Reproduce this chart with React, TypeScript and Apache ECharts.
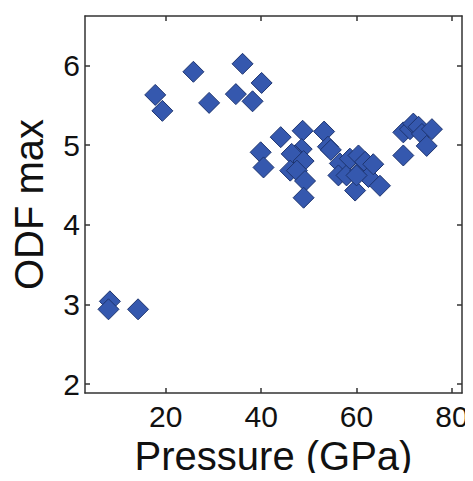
import React, { useEffect, useRef } from "react";
import * as echarts from "echarts";

const pressure: number[] = [
  8.3, 8.0, 14.2,
  17.8, 19.3, 25.8, 29.1, 36.1, 34.7, 38.2, 40.1,
  39.9, 40.5, 44.1, 48.7, 53.2, 48.5, 54.0, 54.6, 47.1, 46.4, 48.9, 46.1, 47.5, 49.2, 48.9,
  56.5, 56.2, 57.9, 58.6, 60.4, 59.7, 60.8, 61.8, 62.5, 63.5, 64.9, 60.0,
  69.8, 69.8, 71.2, 71.9, 73.0, 73.7, 75.8, 74.7,
];
const odfMax: number[] = [
  3.04, 2.94, 2.94,
  5.63, 5.43, 5.92, 5.53, 6.02, 5.64, 5.55, 5.78,
  4.91, 4.72, 5.10, 5.18, 5.17, 4.95, 4.98, 4.94, 4.87, 4.89, 4.80, 4.68, 4.68, 4.55, 4.34,
  4.77, 4.62, 4.62, 4.83, 4.87, 4.43, 4.68, 4.79, 4.60, 4.76, 4.49, 4.62,
  5.16, 4.87, 5.20, 5.27, 5.23, 5.14, 5.20, 4.99,
];
const xTicks: number[] = [20, 40, 60, 80];
const yTicks: number[] = [2, 3, 4, 5, 6];

const FONT = "'Liberation Sans', Arial, sans-serif";
const AX = "#333333";

export default function App() {
  const ref = useRef<HTMLDivElement>(null);
  useEffect(() => {
    if (!ref.current) return;
    const chart = echarts.init(ref.current, undefined, { renderer: "svg" });
    const data = pressure.map((p, i) => [p, odfMax[i]]);
    const lineStyle = { color: AX, width: 1.5 };
    chart.setOption({
      animation: false,
      backgroundColor: "#ffffff",
      grid: { left: 85, top: 16, width: 377, height: 377 },
      xAxis: [
        {
          type: "value",
          min: 3.08,
          max: 82.1,
          name: "Pressure (GPa)",
          nameLocation: "middle",
          nameGap: 40,
          nameTextStyle: { fontSize: 40, color: "#111", fontFamily: FONT },
          axisLine: { show: true, lineStyle },
          axisTick: { show: true, inside: true, length: 5, lineStyle, customValues: xTicks },
          axisLabel: { fontSize: 30, color: "#111", fontFamily: FONT, margin: 8, customValues: xTicks },
          splitLine: { show: false },
        },
        {
          type: "value",
          position: "top",
          min: 3.08,
          max: 82.1,
          axisLine: { show: true, lineStyle },
          axisTick: { show: true, inside: true, length: 5, lineStyle, customValues: xTicks },
          axisLabel: { show: false },
          splitLine: { show: false },
        },
      ],
      yAxis: [
        {
          type: "value",
          min: 1.89,
          max: 6.62,
          name: "ODF max",
          nameLocation: "middle",
          nameGap: 36,
          nameRotate: 90,
          nameTextStyle: { fontSize: 40, color: "#111", fontFamily: FONT },
          axisLine: { show: true, lineStyle },
          axisTick: { show: true, inside: true, length: 5, lineStyle, customValues: yTicks },
          axisLabel: { fontSize: 30, color: "#111", fontFamily: FONT, margin: 5, customValues: yTicks },
          splitLine: { show: false },
        },
        {
          type: "value",
          position: "right",
          min: 1.89,
          max: 6.62,
          axisLine: { show: true, lineStyle },
          axisTick: { show: true, inside: true, length: 5, lineStyle, customValues: yTicks },
          axisLabel: { show: false },
          splitLine: { show: false },
        },
      ],
      series: [
        {
          type: "scatter",
          xAxisIndex: 0,
          yAxisIndex: 0,
          symbol: "diamond",
          symbolSize: 21,
          data,
          itemStyle: { color: "#3558ae", borderColor: "#1e3570", borderWidth: 1, opacity: 1 },
        },
      ],
    });
    return () => chart.dispose();
  }, []);
  return <div ref={ref} style={{ width: 473, height: 481, margin: -8 }} />;
}
